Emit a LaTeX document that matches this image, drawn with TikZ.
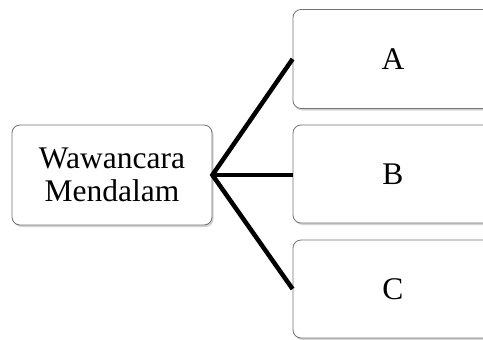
\documentclass[tikz,border=0pt]{standalone}
\usepackage{fontspec}
\setmainfont{Liberation Serif}
\usetikzlibrary{shadows}
\begin{document}
\begin{tikzpicture}[x=1pt,y=-1pt,
  box/.style={draw=black!55, line width=0.8pt, fill=white, rounded corners=8pt,
    drop shadow={shadow xshift=1.5pt, shadow yshift=-2pt, fill=black!35, opacity=0.5},
    font=\fontsize{31.5}{33}\selectfont, align=center, inner sep=0pt},
  conn/.style={line width=4.5pt, black}]
\useasboundingbox (0,0) rectangle (483,340);
\node[box, minimum width=200pt, minimum height=100pt] (m) at (112,175) {Wawancara\\Mendalam};
\node[box, minimum width=200pt, minimum height=99pt] (a) at (393,59) {A};
\node[box, minimum width=200pt, minimum height=98pt] (b) at (393,174) {B};
\node[box, minimum width=200pt, minimum height=98pt] (c) at (393,289) {C};
\coordinate (o) at (m.east);
\draw[conn, line join=miter] (a.west) -- (o) -- (c.west);
\draw[conn] (o) -- (o -| b.west);
\end{tikzpicture}
\end{document}
